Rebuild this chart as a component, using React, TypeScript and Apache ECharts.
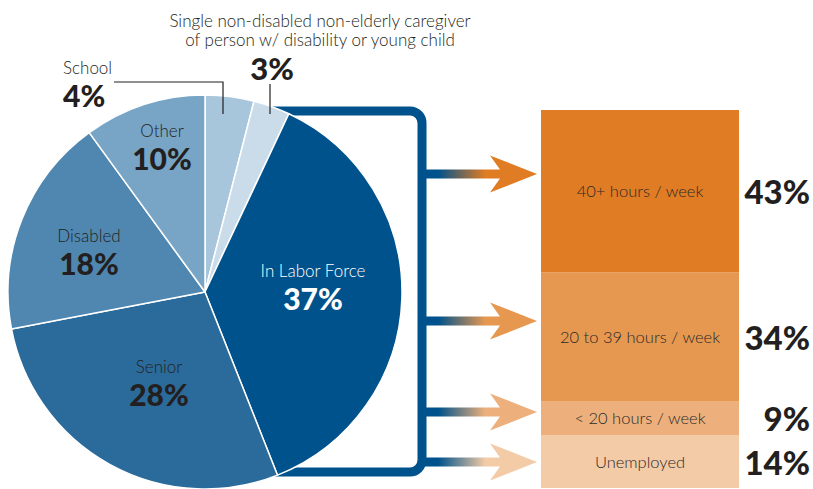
import React, { useEffect, useRef } from "react";
import * as echarts from "echarts";

// ---- data ----
const pieNames = [
  "School",
  "Single non-disabled non-elderly caregiver\nof person w/ disability or young child",
  "In Labor Force",
  "Senior",
  "Disabled",
  "Other",
];
const pieValues = [4, 3, 37, 28, 18, 10];

const laborCategories = ["Unemployed", "< 20 hours / week", "20 to 39 hours / week", "40+ hours / week"];
const laborValues = [14, 9, 34, 43];

// ---- styles ----
const pieColors = ["#a7c5db", "#cadcea", "#00528c", "#2b6b9b", "#4f87b1", "#78a5c6"];
const barColors = ["#f3cba6", "#edb07c", "#e69850", "#e07c24"];
const FONT = "Lato";
const TEXT = "#231f20";
const BLUE = "#00528c";

// label placement (x, y top, align) per slice
const pieLabelLayout = [
  { x: 63, y: 58, align: "left" },
  { x: 320, y: 11, align: "center" },
  { x: 313, y: 261, align: "center" },
  { x: 159, y: 357, align: "center" },
  { x: 89, y: 226, align: "center" },
  { x: 162, y: 121, align: "center" },
];

const arrowYs = [174, 321, 412, 462];

export default function App() {
  const ref = useRef<HTMLDivElement>(null);

  useEffect(() => {
    if (!ref.current) return;
    const chart = echarts.init(ref.current, undefined, { renderer: "svg" });

    const pieData = pieNames.map((name, i) => ({
      name,
      value: pieValues[i],
      itemStyle: { color: pieColors[i] },
      label: {
        position: i < 2 ? "outside" : "inside",
        color: i === 2 ? "#ffffff" : TEXT,
      },
      labelLine: { show: false },
    }));

    const rich = {
      n: { fontFamily: FONT, fontSize: 17, fontWeight: 300, lineHeight: 19 },
      d: { fontFamily: FONT, fontSize: 17, fontWeight: 300, lineHeight: 19 },
      p: { fontFamily: FONT, fontSize: 30, fontWeight: 900, lineHeight: 36 },
      q: { fontFamily: FONT, fontSize: 31, fontWeight: 900, lineHeight: 38, padding: [0, 96, 0, 0] },
      s: { fontFamily: FONT, fontSize: 30, fontWeight: 900, lineHeight: 36 },
    };

    const arrows = arrowYs.map((y, i) => ({
      type: "polygon",
      z: 1,
      shape: {
        points: [
          [422, y - 4.5],
          [500, y - 4.5],
          [490, y - 18.5],
          [537, y],
          [490, y + 18.5],
          [500, y + 4.5],
          [422, y + 4.5],
        ],
      },
      style: {
        fill: new echarts.graphic.LinearGradient(0, 0, 1, 0, [
          { offset: 0, color: BLUE },
          { offset: 0.14, color: BLUE },
          { offset: 0.55, color: barColors[3 - i] },
          { offset: 1, color: barColors[3 - i] },
        ]),
      },
    }));

    const barSeries: any[] = [];
    laborCategories.forEach((cat, i) => {
      barSeries.push({
        type: "bar",
        name: cat,
        stack: "a",
        data: [laborValues[i]],
        barWidth: 198,
        itemStyle: { color: barColors[i] },
        label: {
          show: true,
          position: "inside",
          formatter: cat,
          fontFamily: FONT,
          fontSize: 16.5,
          fontWeight: 300,
          color: "#2a2a2a",
        },
        emphasis: { disabled: true },
      });
    });
    laborCategories.forEach((cat, i) => {
      barSeries.push({
        type: "bar",
        name: cat + " %",
        stack: "b",
        barGap: "-100%",
        data: [laborValues[i]],
        barWidth: 198,
        itemStyle: { color: "rgba(0,0,0,0)" },
        label: {
          show: true,
          position: [269, "50%"],
          align: "right",
          verticalAlign: "middle",
          formatter: laborValues[i] + "%",
          fontFamily: FONT,
          fontSize: 33,
          fontWeight: 900,
          color: TEXT,
        },
        emphasis: { disabled: true },
      });
    });

    chart.setOption({
      animation: false,
      backgroundColor: "#ffffff",
      grid: { left: 541, width: 198, top: 110, bottom: 1 },
      xAxis: { type: "category", data: ["labor"], show: false },
      yAxis: { type: "value", min: 0, max: 100, show: false },
      graphic: [
        {
          type: "rect",
          z: 1,
          shape: { x: 200, y: 111, width: 222, height: 361, r: [0, 12, 12, 0] },
          style: { fill: "none", stroke: BLUE, lineWidth: 9 },
        },
        ...arrows,
        {
          type: "polyline",
          z: 20,
          shape: { points: [[223, 114], [223, 82], [114, 82]] },
          style: { fill: "none", stroke: TEXT, lineWidth: 1.2 },
        },
        {
          type: "polyline",
          z: 20,
          shape: { points: [[270, 114], [270, 84]] },
          style: { fill: "none", stroke: TEXT, lineWidth: 1.2 },
        },
      ],
      series: [
        {
          type: "pie",
          z: 5,
          center: [205, 292],
          radius: 197,
          startAngle: 90,
          clockwise: true,
          avoidLabelOverlap: false,
          emphasis: { disabled: true },
          itemStyle: { borderColor: "#ffffff", borderWidth: 1.5 },
          label: {
            show: true,
            formatter: (p: any) => {
              const i = p.dataIndex;
              if (i === 1) {
                const lines = String(p.name).split("\n").map((l: string) => `{d|${l}}`);
                return lines.join("\n") + `\n{q|${p.value}%}`;
              }
              if (i === 0) return `{n|${p.name}}\n{s|${p.value}%}`;
              return `{n|${p.name}}\n{p|${p.value}%}`;
            },
            rich,
          },
          labelLayout: (params: any) => {
            const l = pieLabelLayout[params.dataIndex];
            return { x: l.x, y: l.y, align: l.align, verticalAlign: "top" };
          },
          data: pieData,
        },
        ...barSeries,
      ],
    });

    return () => chart.dispose();
  }, []);

  return (
    <div
      ref={ref}
      style={{ position: "fixed", left: 0, top: 0, width: 813, height: 489 }}
    />
  );
}
